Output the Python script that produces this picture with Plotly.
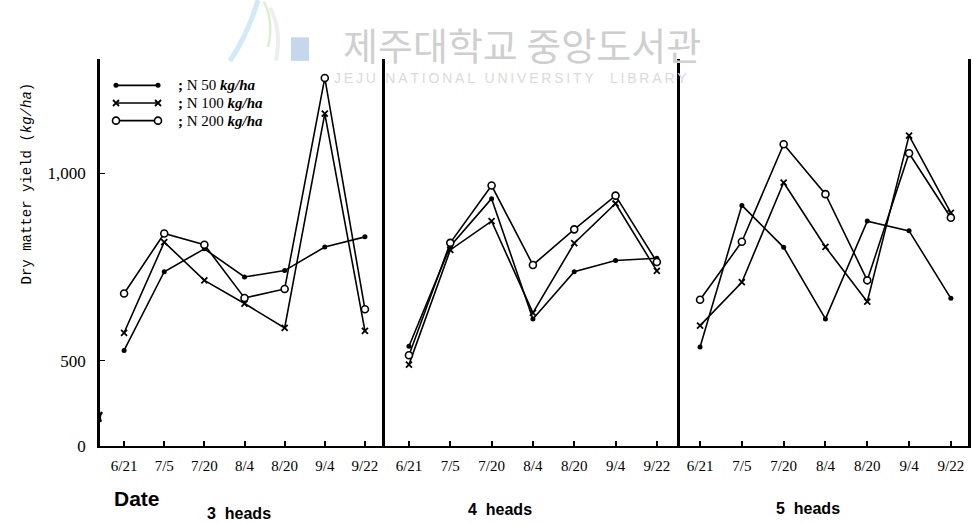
import plotly.graph_objects as go

# ---- data -------------------------------------------------------------
dates = ["6/21", "7/5", "7/20", "8/4", "8/20", "9/4", "9/22"]
panel_names = ["3  heads", "4  heads", "5  heads"]
y_tickvals = [272, 500, 1000]          # broken axis: bottom of axis is labelled 0
y_ticktext = ["0", "500", "1,000"]

# N 50 kg/ha (small filled dots)
n50_3heads = [528, 738, 799, 724, 741, 804, 831]
n50_4heads = [539, 806, 933, 612, 738, 768, 774]
n50_5heads = [537, 915, 803, 612, 873, 847, 667]

# N 100 kg/ha (crosses)
n100_3heads = [575, 817, 715, 653, 588, 1160, 580]
n100_4heads = [490, 796, 873, 628, 814, 920, 740]
n100_5heads = [594, 710, 976, 804, 658, 1101, 895]

# N 200 kg/ha (open circles)
n200_3heads = [680, 840, 810, 668, 692, 1255, 638]
n200_4heads = [515, 815, 968, 756, 851, 941, 764]
n200_5heads = [663, 818, 1078, 945, 715, 1054, 882]

W, H = 974, 525


def px(x):
    return x / W


def py(y):
    return 1 - y / H


marker_n50 = dict(symbol="circle", size=5, color="black")
marker_n100 = dict(symbol="x-thin", size=6, color="black",
                   line=dict(color="black", width=1.8))
marker_n200 = dict(symbol="circle", size=7, color="white",
                   line=dict(color="black", width=1.6))

series = [
    ([n50_3heads, n50_4heads, n50_5heads], marker_n50),
    ([n100_3heads, n100_4heads, n100_5heads], marker_n100),
    ([n200_3heads, n200_4heads, n200_5heads], marker_n200),
]

axis_ids = ["", "2", "3"]

fig = go.Figure()

# legend samples drawn on a full-page pixel axis (transparent background)
legend_rows = [(87, marker_n50, "N 50"), (105, marker_n100, "N 100"),
               (123, marker_n200, "N 200")]
for yy, mk, _ in legend_rows:
    fig.add_trace(go.Scatter(
        x=[116, 158], y=[yy, yy], xaxis="x4", yaxis="y4",
        mode="lines+markers", showlegend=False,
        line=dict(color="black", width=1.6), marker=mk))

for k in range(3):
    for vals, mk in series:
        fig.add_trace(go.Scatter(
            x=dates, y=vals[k], xaxis="x" + axis_ids[k],
            yaxis="y" + axis_ids[k],
            mode="lines+markers", showlegend=False, cliponaxis=False,
            line=dict(color="black", width=1.6), marker=mk))

# panel geometry (pixels)
panels_px = [(100, 385, -0.6, 6.5), (385, 680, -0.58, 6.56),
             (680, 968, -0.48, 6.41)]
y_top, y_bot = 60, 455
y_range = [272, 1306]

tickfont = dict(family="Liberation Serif", size=15, color="black")
layout = dict(
    width=W, height=H, margin=dict(l=0, r=0, t=0, b=0),
    paper_bgcolor="white", plot_bgcolor="rgba(0,0,0,0)",
    showlegend=False,
)
for k, (x0, x1, r0, r1) in enumerate(panels_px):
    sx = axis_ids[k]
    layout[f"xaxis{sx}"] = dict(
        domain=[px(x0), px(x1)], anchor="y" + sx, range=[r0, r1],
        type="category", showline=True, linecolor="black", linewidth=2,
        ticks="inside", ticklen=5, tickcolor="black", tickwidth=1.5,
        showgrid=False, zeroline=False, tickfont=tickfont,
        ticklabelstandoff=5, fixedrange=True)
    layout[f"yaxis{sx}"] = dict(
        domain=[py(y_bot), py(y_top)], anchor="x" + sx, range=y_range,
        showline=True, linecolor="black", linewidth=2.5,
        mirror=(k == 2), showgrid=False, zeroline=False,
        tickvals=y_tickvals, ticktext=y_ticktext,
        ticks="inside" if k == 0 else "", ticklen=5, tickcolor="black",
        showticklabels=(k == 0),
        tickfont=dict(family="Liberation Serif", size=17, color="black"),
        ticklabelstandoff=8, fixedrange=True)

layout["xaxis4"] = dict(domain=[0, 1], range=[0, W], visible=False,
                        anchor="y4", fixedrange=True)
layout["yaxis4"] = dict(domain=[0, 1], range=[H, 0], visible=False,
                        anchor="x4", fixedrange=True)


def note(x, y, text, font, **kw):
    d = dict(x=px(x), y=py(y), xref="paper", yref="paper", showarrow=False,
             xanchor="center", yanchor="middle", text=text, font=font,
             borderpad=0)
    d.update(kw)
    return d


annotations = []
# legend texts
for yy, _, lab in legend_rows:
    annotations.append(note(
        177, yy, f"<b>;</b> {lab} <b><i>kg/ha</i></b>",
        dict(family="Liberation Serif", size=15, color="black"),
        xanchor="left"))

# y-axis title
annotations.append(note(
    27, 187, "Dry matter yield (<i>kg/ha</i>)",
    dict(family="Liberation Mono", size=14, color="black"), textangle=-90))

# x-axis title and panel names
annotations.append(note(
    137, 508, "<b>Date</b>",
    dict(family="Liberation Sans", size=21, color="black")))
for name, cx, cy in zip(panel_names, [239, 500, 808], [523, 519, 518]):
    annotations.append(note(
        cx, cy, "<b>" + name.replace(" ", "&nbsp;") + "</b>",
        dict(family="Liberation Sans", size=16, color="black")))

# library watermark
annotations.append(note(
    522, 44, "제주대학교 중앙도서관",
    dict(family="Noto Sans CJK KR", size=38, color="#cfcfcf")))
annotations.append(note(
    510, 80, "\u2009".join("JEJU NATIONAL UNIVERSITY  LIBRARY"),
    dict(family="Liberation Sans", size=14, color="#dadada")))
layout["annotations"] = annotations


def path_px(points):
    (a, b), (c, d), (e, f) = points
    return f"M {px(a)},{py(b)} Q {px(c)},{py(d)} {px(e)},{py(f)}"


layout["shapes"] = [
    dict(type="path", xref="paper", yref="paper", layer="below",
         path=path_px([(258, 0), (248, 35), (230, 62)]),
         line=dict(color="#d2e9f8", width=5)),
    dict(type="path", xref="paper", yref="paper", layer="below",
         path=path_px([(264, 2), (274, 22), (268, 48)]),
         line=dict(color="#dcefd0", width=2.5)),
    dict(type="path", xref="paper", yref="paper", layer="below",
         path=path_px([(270, 8), (282, 30), (276, 62)]),
         line=dict(color="#eceef0", width=4)),
    dict(type="rect", xref="paper", yref="paper", layer="below",
         x0=px(291), x1=px(309), y0=py(62), y1=py(38),
         fillcolor="#c6d6ec", line=dict(width=0)),
    # axis break mark on the left axis
    dict(type="path", xref="paper", yref="paper",
         path=path_px([(102, 420), (98, 425), (101, 430)]),
         line=dict(color="black", width=2.5)),
]

fig.update_layout(**layout)
fig.write_html("out.html")
